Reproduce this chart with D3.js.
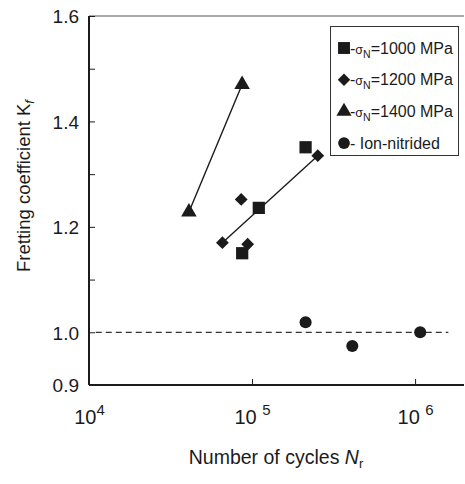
<!DOCTYPE html>
<html>
<head>
<meta charset="utf-8">
<script src="https://cdn.jsdelivr.net/npm/d3@7"></script>
<style>
  body { margin: 0; background: #fff; }
  svg { display: block; font-family: "Liberation Sans", Arial, Helvetica, sans-serif; }
</style>
</head>
<body>
<svg id="chart" width="465" height="484"></svg>
<script>
// data (cycles, Kf)
const series1000 = [[213000, 1.351], [110000, 1.236], [87000, 1.150]];
const series1200 = [[253000, 1.335], [85800, 1.252], [65800, 1.170], [94000, 1.167]];
const series1400 = [[41000, 1.228], [86900, 1.470]];
const seriesNitrided = [[213000, 1.019], [412000, 0.974], [1075000, 1.000]];

const fit1400 = [[41000, 1.228], [86900, 1.470]];
const fit1000 = [[65800, 1.170], [253000, 1.335]];
const refLevel = [[11000, 1.0], [1600000, 1.0]];

const legendLabels = ["1000 MPa", "1200 MPa", "1400 MPa", "Ion-nitrided"];
const xTicks = [1e4, 1e5, 1e6];
const yTicks = [0.9, 1.0, 1.1, 1.2, 1.3, 1.4, 1.5, 1.6];
const yTickLabels = ["0.9", "1.0", "", "1.2", "", "1.4", "", "1.6"];

const margin = {top: 16, right: 1, bottom: 99, left: 89};
const W = 465, H = 484;

const svg = d3.select("#chart");

const x = d3.scaleLog()
    .domain([1e4, Math.pow(10, 6.3)])
    .range([margin.left, W - margin.right]);

const y = d3.scaleLinear()
    .domain([0.9, 1.6])
    .range([H - margin.bottom, margin.top]);

const ink = "#1b1b1b";

// top frame line
svg.append("line")
    .attr("x1", x.range()[0]).attr("x2", x.range()[1])
    .attr("y1", y(1.6)).attr("y2", y(1.6))
    .attr("stroke", "#555").attr("stroke-width", 1.2);

// y axis, ticks pointing in
const yAxis = svg.append("g")
    .attr("transform", "translate(" + margin.left + ",0)")
    .call(d3.axisRight(y).tickValues(yTicks).tickSize(6).tickFormat(""));
yAxis.select(".domain").attr("stroke", ink).attr("stroke-width", 2).attr("d",
    "M0," + y(0.9) + "V" + y(1.6));
yAxis.selectAll(".tick line").attr("stroke", ink).attr("stroke-width", 1);

yAxis.selectAll(".tick")
    .append("text")
    .attr("x", -10)
    .attr("dy", "0.36em")
    .attr("text-anchor", "end")
    .attr("fill", ink)
    .attr("font-size", 19)
    .text((d, i) => yTickLabels[i]);

// x axis, ticks pointing up
const xAxis = svg.append("g")
    .attr("transform", "translate(0," + y(0.9) + ")")
    .call(d3.axisTop(x).tickValues(xTicks).tickSize(6).tickFormat(""));
xAxis.select(".domain").attr("stroke", ink).attr("stroke-width", 2).attr("d",
    "M" + x.range()[0] + ",0H" + x.range()[1]);
xAxis.selectAll(".tick line").attr("stroke", ink).attr("stroke-width", 1);

xAxis.selectAll(".tick")
    .append("text")
    .attr("y", 39)
    .attr("text-anchor", "middle")
    .attr("fill", ink)
    .attr("font-size", 20)
    .each(function(d) {
        const e = Math.round(Math.log10(d));
        const t = d3.select(this);
        t.append("tspan").text(e === 4 ? "10" : "10 ");
        t.append("tspan").attr("dy", -9).attr("font-size", 15).text(e);
    });

// axis titles
const xTitle = svg.append("text")
    .attr("x", 276).attr("y", 464)
    .attr("text-anchor", "middle")
    .attr("font-size", 19.5)
    .attr("fill", ink);
xTitle.append("tspan").text("Number of cycles ");
xTitle.append("tspan").attr("font-style", "italic").text("N");
xTitle.append("tspan").attr("dy", 4).attr("font-size", 13).text("r");

const yTitle = svg.append("text")
    .attr("transform", "translate(30,186) rotate(-90)")
    .attr("text-anchor", "middle")
    .attr("font-size", 18.5)
    .attr("fill", ink);
yTitle.append("tspan").text("Fretting coefficient K");
yTitle.append("tspan").attr("dy", 4).attr("font-size", 13).attr("font-style", "italic").text("f");

// dashed reference line at Kf = 1
const line = d3.line().x(d => x(d[0])).y(d => y(d[1]));

svg.append("path")
    .datum(refLevel)
    .attr("d", line)
    .attr("fill", "none")
    .attr("stroke", "#333")
    .attr("stroke-width", 1.2)
    .attr("stroke-dasharray", "6,4");

// fit lines
[fit1400, fit1000].forEach(f => {
    svg.append("path")
        .datum(f)
        .attr("d", line)
        .attr("fill", "none")
        .attr("stroke", ink)
        .attr("stroke-width", 1.4);
});

// marker shapes
const shapes = [
    {sym: d3.symbolSquare, size: 150, rot: 0},
    {sym: d3.symbolSquare, size: 82, rot: 45},
    {sym: d3.symbolTriangle, size: 105, rot: 0},
    {sym: d3.symbolCircle, size: 115, rot: 0}
];
const allSeries = [series1000, series1200, series1400, seriesNitrided];

allSeries.forEach((s, k) => {
    const sh = shapes[k];
    svg.append("g").selectAll("path")
        .data(s)
        .enter().append("path")
        .attr("d", d3.symbol().type(sh.sym).size(sh.size))
        .attr("transform", d => "translate(" + x(d[0]) + "," + y(d[1]) + ") rotate(" + sh.rot + ")")
        .attr("fill", ink);
});

// legend
const legend = svg.append("g");
legend.append("rect")
    .attr("x", 330.5).attr("y", 26.5)
    .attr("width", 128).attr("height", 129)
    .attr("fill", "#fff")
    .attr("stroke", "#333")
    .attr("stroke-width", 1);

legendLabels.forEach((lab, k) => {
    const ly = 48 + k * 31.7;
    const sh = shapes[k];
    legend.append("path")
        .attr("d", d3.symbol().type(sh.sym).size(sh.size * 0.95))
        .attr("transform", "translate(344," + ly + ") rotate(" + sh.rot + ")")
        .attr("fill", ink);
    const t = legend.append("text")
        .attr("x", 350).attr("y", ly + 5.5)
        .attr("font-size", 16)
        .attr("fill", ink);
    if (k < 3) {
        t.append("tspan").text("-");
        t.append("tspan").attr("font-size", 12.5).text("σ");
        t.append("tspan").attr("dy", 4).attr("font-size", 10.5).text("N");
        t.append("tspan").attr("dy", -4).text("=" + lab);
    } else {
        t.append("tspan").text("- " + lab);
    }
});
</script>
</body>
</html>
